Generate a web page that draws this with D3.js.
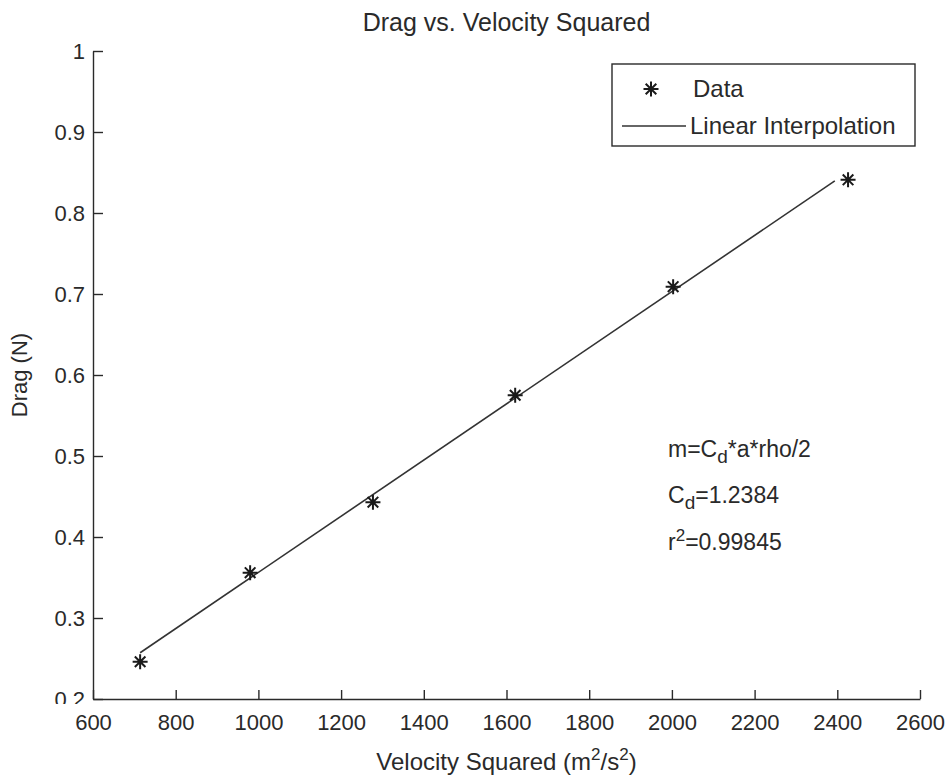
<!DOCTYPE html>
<html>
<head>
<meta charset="utf-8">
<script src="https://cdn.jsdelivr.net/npm/d3@7"></script>
<style>
  html, body { margin: 0; padding: 0; background: #fff; }
  svg text { font-family: "Liberation Sans", Arial, sans-serif; fill: #2a2a2a; }
</style>
</head>
<body>
<svg id="chart" width="947" height="778"></svg>
<script>
// Measured drag force against velocity squared
const velocitySq = [714, 980, 1277, 1621, 2003, 2426];
const drag = [0.246, 0.356, 0.443, 0.575, 0.709, 0.841];

// Least-squares line through the measurements
const fitSlope = 3.467e-4;
const fitIntercept = 0.0096;
const fitRange = [714, 2394];

const xTicks = [600, 800, 1000, 1200, 1400, 1600, 1800, 2000, 2200, 2400, 2600];
const yTicks = [0.2, 0.3, 0.4, 0.5, 0.6, 0.7, 0.8, 0.9, 1];

const titleText = "Drag vs. Velocity Squared";
const legendLabels = ["Data", "Linear Interpolation"];
const cdValue = "1.2384";
const r2Value = "0.99845";

const ink = "#2a2a2a";
const svg = d3.select("#chart");
const margin = { left: 93, right: 27, top: 51, bottom: 79 };
const W = 947, H = 778;

const x = d3.scaleLinear().domain([600, 2600]).range([margin.left, W - margin.right]);
const y = d3.scaleLinear().domain([0.2, 1]).range([H - margin.bottom, margin.top]);

// Axes with inward ticks (left and bottom only)
const xAxis = d3.axisBottom(x).tickValues(xTicks).tickFormat(d3.format("d"))
  .tickSizeInner(-9).tickSizeOuter(0).tickPadding(15);
const yAxis = d3.axisLeft(y).tickValues(yTicks)
  .tickFormat(d => d === 1 ? "1" : d.toFixed(1))
  .tickSizeInner(-10).tickSizeOuter(0).tickPadding(8);

// the lowest y label is cut where it meets the x labels
svg.append("defs").append("clipPath").attr("id", "ylabClip")
  .append("rect").attr("x", -margin.left).attr("y", 0)
  .attr("width", margin.left + 20).attr("height", H - margin.bottom + 5);

const gx = svg.append("g").attr("transform", `translate(0,${H - margin.bottom})`).call(xAxis);
const gy = svg.append("g").attr("transform", `translate(${margin.left},0)`)
  .attr("clip-path", "url(#ylabClip)").call(yAxis);
[gx, gy].forEach(g => {
  g.select(".domain").attr("stroke", ink).attr("stroke-width", 1.4);
  g.selectAll(".tick line").attr("stroke", ink).attr("stroke-width", 1.4);
  g.selectAll(".tick text").attr("font-size", 22).attr("fill", ink)
    .style("font-family", '"Liberation Sans", Arial, sans-serif');
});

// Fitted line
const fitLine = d3.line().x(d => x(d)).y(d => y(fitSlope * d + fitIntercept));
svg.append("path").datum(fitRange)
  .attr("d", fitLine).attr("fill", "none")
  .attr("stroke", "#333").attr("stroke-width", 1.6);

// Star markers (plus overlaid with a cross)
function starPath(r) {
  const d = r * Math.SQRT1_2;
  return `M${-r},0L${r},0M0,${-r}L0,${r}M${-d},${-d}L${d},${d}M${-d},${d}L${d},${-d}`;
}
svg.append("g").selectAll("path")
  .data(velocitySq.map((v, i) => [v, drag[i]]))
  .join("path")
  .attr("transform", d => `translate(${x(d[0])},${y(d[1])})`)
  .attr("d", starPath(7.5))
  .attr("stroke", "#1a1a1a").attr("stroke-width", 2).attr("fill", "none");

// Title and axis labels
svg.append("text").attr("x", (x(600) + x(2600)) / 2).attr("y", 31)
  .attr("text-anchor", "middle").attr("font-size", 25).text(titleText);

const xl = svg.append("text").attr("x", (x(600) + x(2600)) / 2).attr("y", 770)
  .attr("text-anchor", "middle").attr("font-size", 24);
xl.append("tspan").text("Velocity Squared (m");
xl.append("tspan").attr("font-size", 17).attr("dy", -10).text("2");
xl.append("tspan").attr("dy", 10).text("/s");
xl.append("tspan").attr("font-size", 17).attr("dy", -10).text("2");
xl.append("tspan").attr("dy", 10).text(")");

svg.append("text").attr("transform", `translate(27,${(y(0.2) + y(1)) / 2}) rotate(-90)`)
  .attr("text-anchor", "middle").attr("font-size", 22).text("Drag (N)");

// Legend
const lg = svg.append("g");
lg.append("rect").attr("x", 612).attr("y", 64).attr("width", 303).attr("height", 82)
  .attr("fill", "#fff").attr("stroke", ink).attr("stroke-width", 1.4);
lg.append("path").attr("transform", "translate(651,89)").attr("d", starPath(7.5))
  .attr("stroke", "#1a1a1a").attr("stroke-width", 2).attr("fill", "none");
lg.append("line").attr("x1", 622).attr("x2", 686).attr("y1", 126).attr("y2", 126)
  .attr("stroke", "#333").attr("stroke-width", 1.6);
lg.append("text").attr("x", 693).attr("y", 97).attr("font-size", 24).text(legendLabels[0]);
lg.append("text").attr("x", 690).attr("y", 134).attr("font-size", 24).text(legendLabels[1]);

// Fit annotation
const ann = svg.append("g").attr("font-size", 23);
const a1 = ann.append("text").attr("x", 668).attr("y", 457);
a1.append("tspan").text("m=C");
a1.append("tspan").attr("font-size", 19).attr("dy", 6).text("d");
a1.append("tspan").attr("dy", -6).text("*a*rho/2");
const a2 = ann.append("text").attr("x", 668).attr("y", 503);
a2.append("tspan").text("C");
a2.append("tspan").attr("font-size", 19).attr("dy", 6).text("d");
a2.append("tspan").attr("dy", -6).text("=" + cdValue);
const a3 = ann.append("text").attr("x", 668).attr("y", 550);
a3.append("tspan").text("r");
a3.append("tspan").attr("font-size", 17).attr("dy", -9).text("2");
a3.append("tspan").attr("dy", 9).text("=" + r2Value);
</script>
</body>
</html>
